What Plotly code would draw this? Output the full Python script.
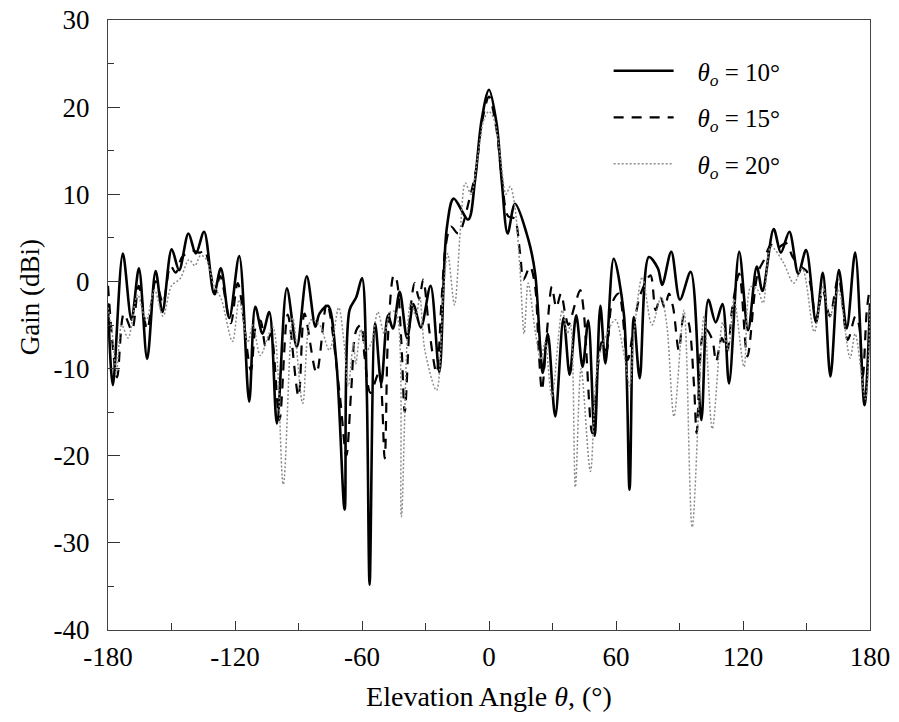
import plotly.graph_objects as go

# Elevation-plane gain patterns (peaks / nulls)
ang_10 = [-180, -177.7, -173, -168.9, -165.4, -161.5, -157.5, -154.3, -149.9, -146.4,
          -142, -138.5, -134.6, -129.9, -126.7, -122.7, -118, -113.3, -110.4, -107,
          -103.8, -100.2, -95.5, -90.8, -86.1, -82, -80.1, -76.1, -72.2, -68.2,
          -65.9, -62.7, -60, -57.8, -56.4, -53.8, -50.9, -47.7, -45.4, -42.2,
          -38.7, -35.7, -32.2, -27.6, -23.5, -20, -16.7, -9.8, -6.6, -3.5,
          0, 3.6, 6, 8.8, 12.3, 18.6, 21.8, 24.2, 25.4, 27.8,
          31.3, 35.2, 38.1, 41.2, 44.2, 46.9, 49.9, 52.6, 55, 58.9,
          63.7, 66.4, 68.4, 71.2, 75.5, 79.8, 81.8, 86.1, 90.2, 95.3,
          100.3, 103.6, 107.1, 110.3, 113.4, 118.2, 122.4, 126.5, 129.2, 134.5,
          137.9, 141.9, 146.1, 149.8, 154.5, 157.7, 161.3, 165.3, 169, 173,
          177.4, 180]
gain_10 = [-2.5, -11.9, 3.2, -4.4, 1.5, -8.9, 1.2, -3.5, 3.7, 1.3,
           5.5, 3.2, 5.7, -1.4, 1.5, -4.2, 2.9, -13.8, -2.9, -6,
           -3.5, -16.3, -0.8, -7.5, 0.6, -5.2, -3.7, -2.8, -9.0, -26.2,
           -3.3, -1.8, 0.4, -12, -34.8, -4.8, -11.7, -3.9, -5.4, -1.2,
           -6.5, -2.6, -5.3, -0.5, -10.4, 6.0, 9.5, 7.1, 11.6, 18.5,
           22.0, 18.1, 11.6, 5.5, 8.9, 4.8, 0.9, -7.5, -10.5, -6,
           -15.5, -4.2, -10.7, -3.9, -9.8, -4.5, -17.7, -2.8, -9.4, 2.6,
           -3.7, -23.9, -4.1, -11.1, 2.8, 1.5, -0.4, 3.4, -2.1, 1.1,
           -15.9, -2.1, -4.7, -2.6, -11.7, 3.4, -5.6, 1.7, -1.1, 6.0,
           3.3, 5.7, 0.9, 3.6, -4.7, 1.0, -10.9, 1.3, -5.4, 3.3,
           -14.2, -2.5]

ang_15 = [-180, -175.7, -172.5, -168.7, -165.5, -161.5, -157.5, -154, -150.5, -148,
          -145, -140, -136.5, -134.5, -131.5, -129.5, -127, -122, -118.7, -112.5,
          -110, -108, -105.5, -103, -99, -95.1, -90, -87.2, -81.5, -76.6,
          -70.6, -67.4, -65.1, -62.7, -60.5, -58.8, -56, -52, -49.3, -47.7,
          -45, -43.7, -41.4, -39.8, -37, -35.1, -33, -31.1, -28, -24.8,
          -22.4, -20.5, -18, -14.5, -9, -6, -3.5, 0, 3.5, 6,
          9, 12, 14.7, 16.3, 19.4, 21.8, 23.4, 25, 27.3, 29.7,
          31.8, 34, 36, 37.5, 40.8, 43.1, 44.7, 48.7, 51.8, 53.4,
          55.5, 58.1, 61.3, 65.5, 68.5, 71.5, 76.3, 78.7, 81, 83,
          85, 87, 89.7, 92.1, 94, 96.8, 98.1, 100.8, 102.5, 105.5,
          107.3, 110, 112.5, 115, 118.2, 122.1, 126.9, 130, 133.2, 136.1,
          140.3, 143.5, 147.4, 150, 152.1, 154.5, 157.7, 161, 165.1, 169.5,
          173.1, 174.8, 176.6, 178.5, 180]
gain_15 = [-0.5, -11.0, -3.7, -5.6, -0.5, -5.5, 0.0, -2.5, 1.8, 1.0,
           2.8, 3.5, 3.3, 3.6, 1.0, -1.5, 0.6, -4.8, -0.2, -10.2,
           -5, -4.5, -7.5, -6, -15.9, -3.8, -13.2, -3.7, -10.5, -2.5,
           -12.8, -20, -12.5, -5.6, -5.0, -8.6, -12.8, -10.5, -20.3, -6.3,
           0.7, 0.2, -7, -15, -3, -0.2, -2, 0.2, -6, -10.5,
           -2.1, 4, 6.3, 5.5, 9.7, 13, 18, 21.2, 17.5, 12,
           7.5, 7.2, 3.2, 0.2, 1.7, -0.6, -7.5, -12.5, -6, -0.6,
           -3, -1.4, -3.7, -5.0, -2.5, -1.0, -3.3, -17.4, -9, -6.9,
           -8, -2.5, -1.4, -9, -5, -1.5, 0.7, -3.3, -1.8, -3,
           -1.4, -3, -7.9, -4, -4.5, -11.7, -17.4, -6.3, -5.5, -6.7,
           -9.2, -6.5, -8, -2.9, 0.9, -8.6, 0.9, 2.5, 4.2, 3.8,
           4.4, 2.8, 1.7, 1.2, -0.6, -4.4, -1, -4, 0.5, -6.7,
           -4, -5, -10.9, -3.3, -0.6]

ang_20 = [-180, -178, -176, -173.5, -170.5, -166, -162, -158, -154, -150,
          -146, -141.7, -139, -136.2, -133.5, -129.9, -126.5, -121.2, -118, -114,
          -111.5, -108, -102.2, -97.2, -92.7, -88, -84, -80, -75.4, -71,
          -68.5, -66.5, -64, -63, -60.5, -58, -55.5, -52.5, -49.5, -46.5,
          -44, -41.4, -37, -34.5, -32.7, -30.3, -24.8, -21.5, -19.5, -16.3,
          -13.5, -11.2, -8.5, -5.5, -2.5, 0, 2.5, 5.5, 8, 10,
          12, 14.5, 16.6, 18.5, 22, 24.5, 26.5, 29.7, 34.6, 37,
          38.5, 40.8, 43.5, 47.9, 51, 54, 59.7, 63.5, 66.5, 68.4,
          72.4, 77, 81.3, 84, 87.4, 92.1, 96, 101.6, 105.5, 110.4,
          113, 115.8, 120.5, 123.7, 127, 129.5, 133.2, 139, 144, 148,
          153.7, 157.7, 161, 165, 170.6, 173, 177.8, 180]
gain_20 = [-3, -6, -10.5, -5, -6.5, -1.5, -4.5, -1, -4, -0.5,
           0.3, 2.5, 1.8, 3.0, 2.5, -0.5, -2, -6.9, -2.1, -7,
           -5, -8.5, -5.2, -23.3, -4.2, -14, -4.4, -5, -7.9, -3.0,
           -7, -12, -7, -9.5, -5.5, -8, -7, -3.5, -6, -3.5,
           -3.5, -27, -2.5, -4, -1.8, -7.9, -12.5, -1, 3.2, -2.7,
           6, 11.3, 10, 14, 18.5, 19.5, 18.5, 14, 10, 10.9,
           9, 2, -6, -0.2, -6, -9, -7, -13.2, -3.3, -6,
           -5, -23.6, -10, -21.8, -10, -7, -4.4, -8, -12, -6.3,
           0.5, -5, -1.8, -5, -15.5, -3.3, -28.2, -4, -16.9, -4.7,
           -8, -2.1, -9.8, -0.6, -1, -2.5, 4, 2.2, -0.2, 1.5,
           -5.8, -0.6, -4, -1, -8.8, -6, -13.5, -3]

x_ticks = [-180, -120, -60, 0, 60, 120, 180]
x_tick_text = ["-180", "-120", "-60", "0", "60", "120", "180"]
y_ticks = [-40, -30, -20, -10, 0, 10, 20, 30]
y_tick_text = ["-40", "-30", "-20", "-10", "0", "10", "20", "30"]

PAD = "&nbsp;&nbsp;&nbsp;"
names = [PAD + "<i>θ</i><sub><i>o</i></sub> = 10°",
         PAD + "<i>θ</i><sub><i>o</i></sub> = 15°",
         PAD + "<i>θ</i><sub><i>o</i></sub> = 20°"]

FONT = "Liberation Serif, Times New Roman, serif"

fig = go.Figure()
fig.add_trace(go.Scatter(x=ang_10, y=gain_10, mode="lines", name=names[0], legendgroup="a",
                         line=dict(color="black", width=2.6, shape="spline", smoothing=0.9)))
fig.add_trace(go.Scatter(x=ang_15, y=gain_15, mode="lines", name=names[1], legendgroup="b",
                         line=dict(color="black", width=2.2, dash="10px,8px", shape="spline", smoothing=0.9)))
fig.add_trace(go.Scatter(x=ang_20, y=gain_20, mode="lines", name=names[2], legendgroup="c",
                         line=dict(color="#8a8a8a", width=1.5, dash="2px,2px", shape="spline", smoothing=0.9)))

fig.update_layout(
    width=899, height=722,
    margin=dict(l=108, r=29, t=20, b=92),
    plot_bgcolor="white", paper_bgcolor="white",
    font=dict(family=FONT, size=26, color="black"),
    showlegend=True,
    legend=dict(x=0.657, y=0.954, xanchor="left", yanchor="top",
                bgcolor="rgba(0,0,0,0)", font=dict(family=FONT, size=25),
                tracegroupgap=11, itemwidth=60),
    xaxis=dict(range=[-180, 180], tickvals=x_ticks, ticktext=x_tick_text,
               ticks="inside", ticklen=9, tickcolor="#333", automargin=False,
               showgrid=False, zeroline=False, showline=True,
               linecolor="#444", linewidth=1, mirror=True,
               minor=dict(dtick=30, tick0=-180, ticks="inside", ticklen=7, tickcolor="#333"),
               ticklabelstandoff=3, tickfont=dict(size=27),
               title=dict(text="Elevation Angle <i>θ</i>, (°)", font=dict(size=28), standoff=14)),
    yaxis=dict(range=[-40, 30], tickvals=y_ticks, ticktext=y_tick_text,
               ticks="inside", ticklen=12, tickcolor="#333", automargin=False,
               showgrid=False, zeroline=False, showline=True,
               linecolor="#444", linewidth=1, mirror=True,
               minor=dict(dtick=5, tick0=-40, ticks="inside", ticklen=6, tickcolor="#333"),
               ticklabelstandoff=12, tickfont=dict(size=27)),
    annotations=[dict(text="Gain (dBi)", xref="paper", yref="paper", x=-0.102, y=0.546,
                      xanchor="center", yanchor="middle", textangle=-90, showarrow=False,
                      font=dict(family=FONT, size=27))],
)

fig.write_html("out.html", config={"displayModeBar": False},
               post_script="document.body.style.margin='0';document.body.style.overflow='hidden';")
